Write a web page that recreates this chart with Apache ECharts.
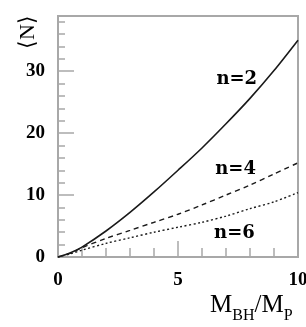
<!DOCTYPE html>
<html>
<head>
<meta charset="utf-8">
<script src="https://cdn.jsdelivr.net/npm/echarts@6/dist/echarts.min.js"></script>
<style>html,body{margin:0;padding:0;background:#fff}#c{width:306px;height:327px}</style>
</head>
<body>
<div id="c"></div>
<script>
const xValues = [0, 0.5, 1, 2, 3, 4, 5, 6, 7, 8, 9, 10];
const n2Values = [0, 0.65, 1.6, 4.2, 7.2, 10.5, 14.0, 17.6, 21.5, 25.6, 30.1, 35.0];
const n4Values = [0, 0.6, 1.5, 3.0, 4.3, 5.6, 6.9, 8.4, 10.0, 11.6, 13.4, 15.2];
const n6Values = [0, 0.5, 1.1, 2.2, 3.1, 4.0, 4.8, 5.6, 6.6, 7.8, 8.9, 10.4];
const seriesNames = ['n=2', 'n=4', 'n=6'];
const labelCoords = [[7.45, 28.6], [7.4, 14.1], [7.35, 3.9]];
const xTicks = [0, 5, 10];
const yTicks = [0, 10, 20, 30];
const yTitle = '⟨N⟩';

const pairs = v => xValues.map((x, i) => [x, v[i]]);
const serif = 'Liberation Serif';
const tickLabel = {color: '#000', fontFamily: serif, fontWeight: 'bold', fontSize: 19};
const axisGray = '#a8a8a8';

function mk(name, vals, type, coord) {
  return {
    name: name, type: 'line', data: pairs(vals), showSymbol: false, smooth: 0.3,
    lineStyle: {color: '#1a1a1a', width: type === 'solid' ? 1.6 : 1.4, type: type},
    markPoint: {
      symbol: 'rect', symbolSize: 1, itemStyle: {color: 'rgba(0,0,0,0)'},
      data: [{coord: coord}],
      label: {show: true, position: 'inside', formatter: name, color: '#000',
        fontFamily: 'DejaVu Serif', fontWeight: 'bold', fontSize: 18}
    }
  };
}

const chart = echarts.init(document.getElementById('c'));
chart.setOption({
  animation: false,
  grid: {left: 58, top: 16, right: 8, bottom: 70, containLabel: false, outerBoundsMode: 'none',
    show: true, borderColor: axisGray, borderWidth: 2, backgroundColor: 'transparent'},
  graphic: [{
    type: 'text', x: 28, y: 32, rotation: Math.PI / 2,
    style: {text: yTitle, fontFamily: serif, fontSize: 22, fill: '#000', align: 'center', verticalAlign: 'middle'}
  }],
  xAxis: {
    type: 'value', min: 0, max: 10, interval: 5,
    axisLine: {lineStyle: {color: axisGray, width: 2}},
    axisTick: {inside: true, length: 16, lineStyle: {color: axisGray, width: 1.5}},
    minorTick: {show: true, splitNumber: 5, length: 9, lineStyle: {color: axisGray, width: 1.5}},
    splitLine: {show: false},
    axisLabel: Object.assign({margin: 14, formatter: v => xTicks.includes(v) ? String(v) : ''}, tickLabel),
    name: '{m|M}{s|BH}{m|/M}{s|P}', nameLocation: 'middle', nameGap: 36, nameMoveOverlap: false,
    nameTextStyle: {
      align: 'left', verticalAlign: 'top', padding: [0, 0, 0, 32],
      rich: {
        m: {fontFamily: serif, fontSize: 25, color: '#000', lineHeight: 26, verticalAlign: 'top'},
        s: {fontFamily: serif, fontSize: 16, color: '#000', lineHeight: 16, padding: [15, 0, 0, 0], verticalAlign: 'top'}
      }
    }
  },
  yAxis: [{
    type: 'value', min: 0, max: 38.9, interval: 10,
    axisLine: {lineStyle: {color: axisGray, width: 2}},
    axisTick: {inside: true, length: 16, lineStyle: {color: axisGray, width: 1.5}},
    splitLine: {show: false},
    axisLabel: Object.assign({margin: 13, showMaxLabel: false, formatter: v => yTicks.includes(v) ? String(v) : ''}, tickLabel)
  }, {
    type: 'value', min: 0, max: 38.9, interval: 2, position: 'left',
    axisLine: {show: false},
    axisTick: {inside: true, length: 7, lineStyle: {color: axisGray, width: 1.5}},
    axisLabel: {show: false}, splitLine: {show: false}
  }],
  series: [
    mk(seriesNames[0], n2Values, 'solid', labelCoords[0]),
    mk(seriesNames[1], n4Values, [5, 4], labelCoords[1]),
    mk(seriesNames[2], n6Values, [2, 2.5], labelCoords[2])
  ]
});
</script>
</body>
</html>
